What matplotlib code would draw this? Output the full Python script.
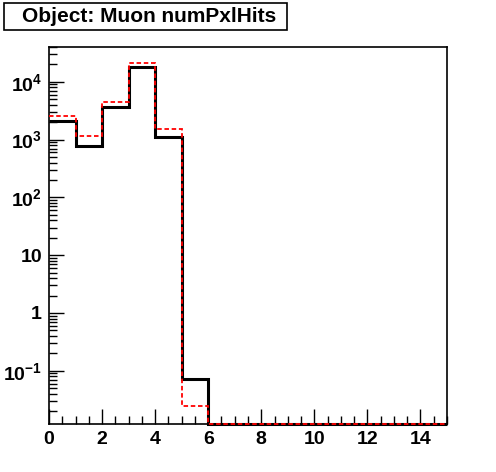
import numpy as np
import matplotlib
matplotlib.use("Agg")
import matplotlib.pyplot as plt
from matplotlib.patches import Rectangle
from matplotlib.ticker import FixedLocator, LogLocator, NullFormatter, MultipleLocator

edges = np.arange(0, 16, 1)
black_vals = [2090, 770, 3650, 17900, 1100, 0.0718, 0, 0, 0, 0, 0, 0, 0, 0, 0]
red_vals = [2570, 1165, 4470, 21500, 1510, 0.0242, 0, 0, 0, 0, 0, 0, 0, 0, 0]
title = "Object: Muon numPxlHits"
ytick_vals = [0.1, 1, 10, 100, 1000, 10000]
ytick_labels = ["10$^{-1}$", "1", "10", "10$^{2}$", "10$^{3}$", "10$^{4}$"]
xtick_vals = [0, 2, 4, 6, 8, 10, 12, 14]

ymin, ymax = 0.012, 40000

plt.rcParams['font.family'] = ['Liberation Sans', 'DejaVu Sans']
plt.rcParams['mathtext.fontset'] = 'custom'
plt.rcParams['mathtext.rm'] = 'Liberation Sans:bold'
plt.rcParams['mathtext.default'] = 'rm'

W, H = 496, 472
fig = plt.figure(figsize=(W/100, H/100), dpi=100)
ax = fig.add_axes([49/W, 1-424/H, 398/W, 377/H])

b = np.maximum(np.array(black_vals, float), ymin)
r = np.maximum(np.array(red_vals, float), ymin)
ax.stairs(b, edges, color='black', linewidth=2.2, baseline=None, zorder=4, clip_on=False)
ax.stairs(r, edges, color='red', linewidth=1.3, linestyle=(0, (2.5, 1.5)), baseline=None, zorder=5, clip_on=False)
ax.set_yscale('log')
ax.set_xlim(0, 15)
ax.set_ylim(ymin, ymax)

ax.yaxis.set_major_locator(FixedLocator(ytick_vals))
ax.set_yticklabels(ytick_labels)
ax.yaxis.set_minor_locator(LogLocator(base=10, subs=np.arange(2, 10)))
ax.yaxis.set_minor_formatter(NullFormatter())
ax.xaxis.set_major_locator(FixedLocator(xtick_vals))
ax.set_xticklabels([str(v) for v in xtick_vals])
ax.xaxis.set_minor_locator(MultipleLocator(0.5))

ax.tick_params(which='both', direction='in', top=False, right=False, width=1)
ax.tick_params(which='major', length=11, labelsize=14, pad=5)
ax.tick_params(which='minor', length=6)
for lbl in ax.get_xticklabels() + ax.get_yticklabels():
    lbl.set_fontweight('bold')
for s in ax.spines.values():
    s.set_linewidth(1.2)

fig.patches.append(Rectangle((4/W, 1-30/H), 283/W, 27/H, transform=fig.transFigure,
                             facecolor='white', edgecolor='black', linewidth=1.2))
fig.text(149.5/W, 1-17/H, title, ha='center', va='center', fontsize=15, fontweight='bold')

fig.savefig('out.png', dpi=100)
